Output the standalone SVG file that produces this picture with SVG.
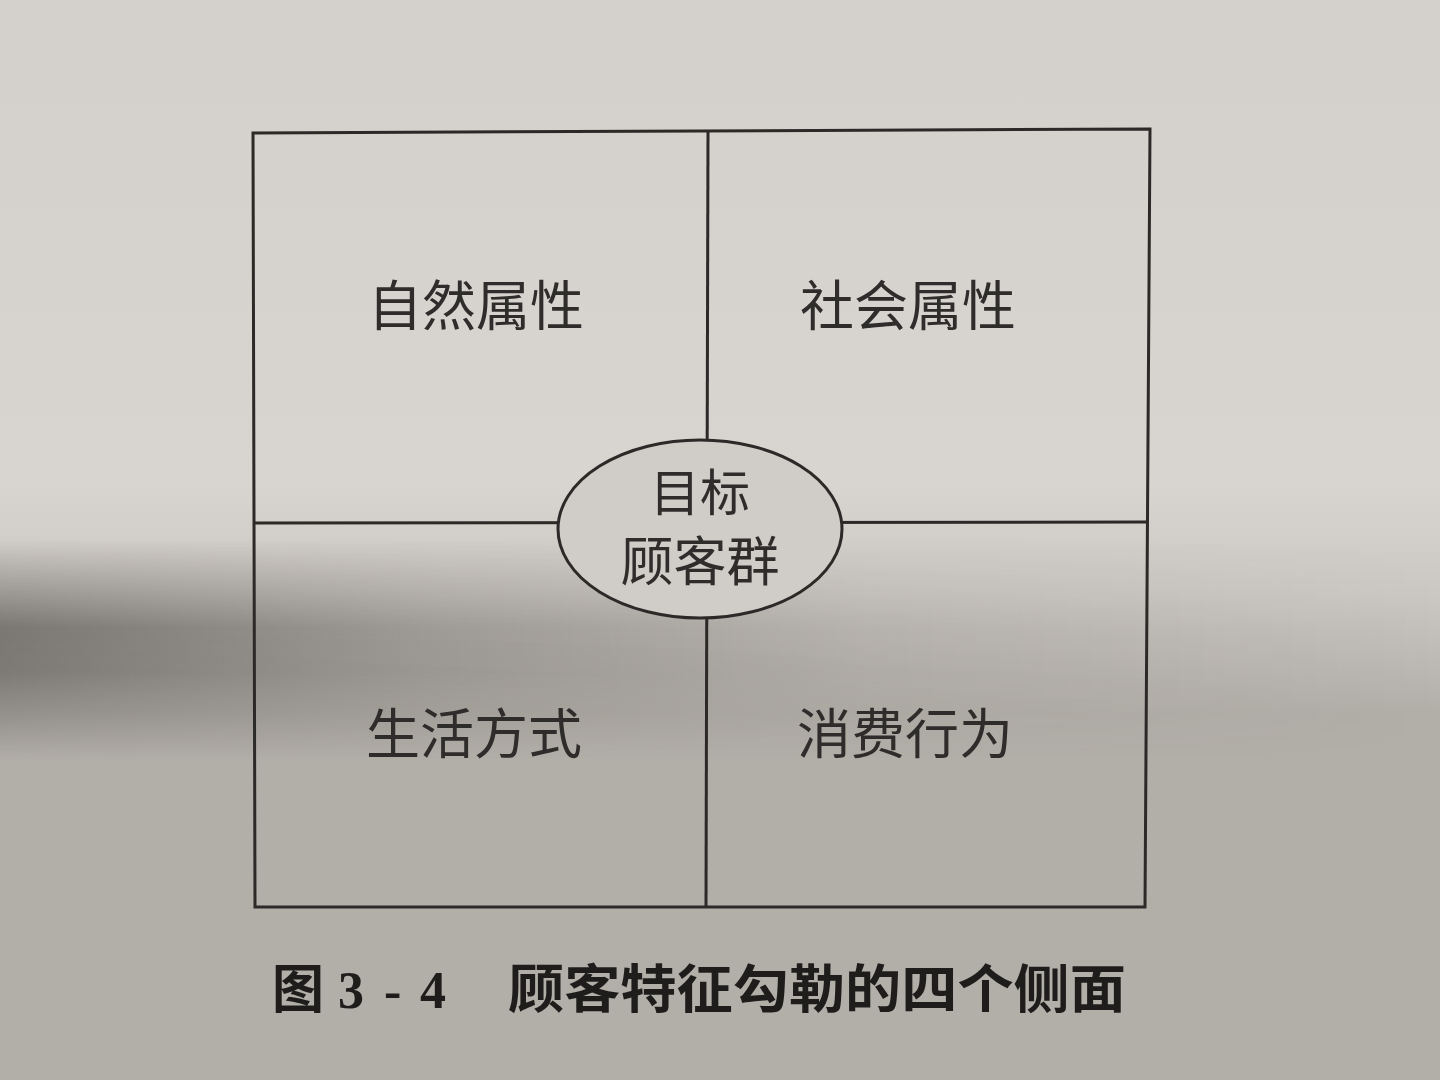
<svg xmlns="http://www.w3.org/2000/svg" width="1440" height="1080" viewBox="0 0 1440 1080">
  <defs>
    <linearGradient id="paper" x1="0" y1="0" x2="0" y2="1">
      <stop offset="0" stop-color="#d4d0cc"/>
      <stop offset="0.45" stop-color="#d8d4d0"/>
      <stop offset="0.55" stop-color="#cbc7c2"/>
      <stop offset="0.66" stop-color="#b2aea8"/>
      <stop offset="1" stop-color="#b2aea8"/>
    </linearGradient>
    <linearGradient id="shade" x1="0" y1="0" x2="1" y2="0">
      <stop offset="0" stop-color="#3e3c38" stop-opacity="0.55"/>
      <stop offset="0.3" stop-color="#3e3c38" stop-opacity="0.28"/>
      <stop offset="0.6" stop-color="#3e3c38" stop-opacity="0.1"/>
      <stop offset="1" stop-color="#3e3c38" stop-opacity="0"/>
    </linearGradient>
    <linearGradient id="band" x1="0" y1="0" x2="0" y2="1">
      <stop offset="0" stop-color="#fff" stop-opacity="0"/>
      <stop offset="0.4" stop-color="#fff" stop-opacity="1"/>
      <stop offset="0.6" stop-color="#fff" stop-opacity="0.9"/>
      <stop offset="1" stop-color="#fff" stop-opacity="0"/>
    </linearGradient>
    <mask id="bandMask" maskUnits="userSpaceOnUse" x="0" y="0" width="1440" height="1080">
      <rect x="0" y="540" width="1440" height="220" fill="url(#band)"/>
    </mask>
    <style>
      .line { stroke: #2b2a28; stroke-width: 3; fill: none; }
      .label { font-family: "Noto Sans CJK SC", "Noto Sans", sans-serif; font-size: 54px; fill: #2e2d2b; text-anchor: middle; font-weight: 400; }
      .caption { font-family: "Noto Sans CJK SC", "Noto Sans", sans-serif; font-size: 52px; fill: #1e1d1b; font-weight: 700; }
      .num { font-family: "Liberation Serif", serif; font-weight: 700; }
    </style>
  </defs>

  <rect x="0" y="0" width="1440" height="1080" fill="url(#paper)"/>
  <rect x="0" y="540" width="1440" height="220" fill="url(#shade)" mask="url(#bandMask)"/>

  <g id="frame">
    <polygon class="line" points="253,133 1150,129 1145,907 255,907"/>
  </g>

  <g id="connectors">
    <line class="line" x1="708" y1="131" x2="706" y2="907"/>
    <line class="line" x1="254" y1="523" x2="1147" y2="522"/>
  </g>

  <g id="node-natural">
    <text class="label" x="476" y="326">自然属性</text>
  </g>
  <g id="node-social">
    <text class="label" x="908" y="326">社会属性</text>
  </g>
  <g id="node-lifestyle">
    <text class="label" x="474" y="754">生活方式</text>
  </g>
  <g id="node-consumption">
    <text class="label" x="905" y="754">消费行为</text>
  </g>

  <g id="node-target">
    <ellipse cx="700" cy="529" rx="142" ry="89" fill="#d0ccc7" stroke="#2b2a28" stroke-width="3"/>
    <text class="label" x="700" y="511" style="font-size:50px">目标</text>
    <text class="label" x="700" y="581" style="font-size:53px">顾客群</text>
  </g>

  <g id="caption">
    <text class="caption" x="272" y="1008">图<tspan class="num" x="338">3</tspan><tspan class="num" x="384">-</tspan><tspan class="num" x="420">4</tspan><tspan x="508" textLength="618" lengthAdjust="spacingAndGlyphs">顾客特征勾勒的四个侧面</tspan></text>
  </g>
</svg>
